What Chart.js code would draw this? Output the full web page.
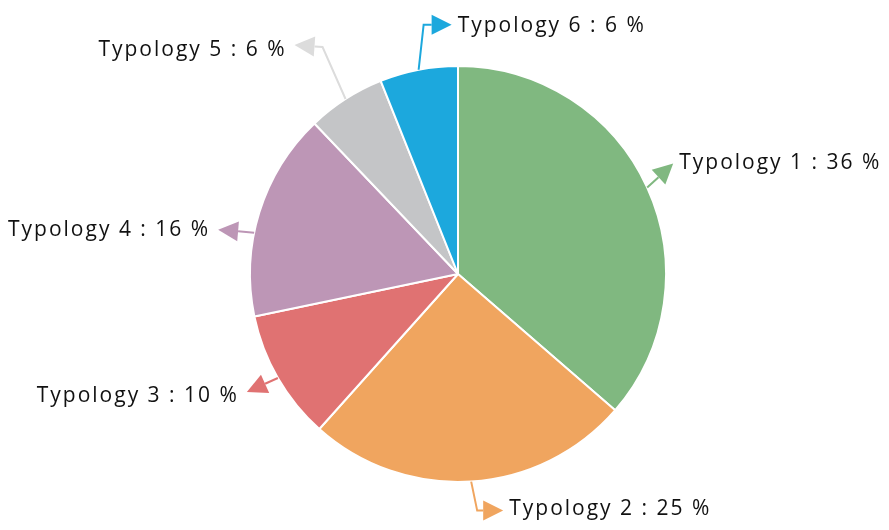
<!DOCTYPE html>
<html lang="en">
<head>
    <meta charset="UTF-8">
    <title>Typologies</title>
    <style>
        * { padding: 0; margin: 0; }
        body { background: #fff; }
        #wrap { width: 889px; height: 530px; }
    </style>
</head>
<body>
    <div id="wrap"><canvas id="pieChart" width="889" height="530"></canvas></div>

    <script src="https://cdn.jsdelivr.net/npm/chart.js"></script>
    <script>
        // data
        const labels = ['Typology 1', 'Typology 2', 'Typology 3', 'Typology 4', 'Typology 5', 'Typology 6'];
        const values = [36, 25, 10, 16, 6, 6];
        const colors = ['#80b880', '#f0a55f', '#e07272', '#bd96b6', '#c4c5c7', '#1ca8dd'];
        const arrowColors = ['#80b880', '#f0a55f', '#e07272', '#bd96b6', '#dcdcdc', '#1ca8dd'];

        // leader lines: where on the slice they start (fraction of the slice angle),
        // bend points relative to that start, last point is the arrow tip
        const leaders = [
            { at: 0.5, pts: [[26, -24]], side: 'right', dy: -1 },
            { at: 0.5, pts: [[6, 29], [32, 29]], side: 'right', dy: -2 },
            { at: 0.5, pts: [[-31, 14]], side: 'left', dy: 4 },
            { at: 0.4, pts: [[-36, -3]], side: 'left', dy: 0 },
            { at: 0.5, pts: [[-23, -52], [-51, -54]], side: 'left', dy: 5 },
            { at: 0.5, pts: [[5, -45], [33, -45]], side: 'right', dy: 1 }
        ];

        const leaderPlugin = {
            id: 'leaders',
            afterDatasetsDraw(chart) {
                const ctx = chart.ctx;
                const meta = chart.getDatasetMeta(0);
                meta.data.forEach((arc, i) => {
                    const p = arc.getProps(['x', 'y', 'startAngle', 'endAngle', 'outerRadius'], true);
                    const L = leaders[i];
                    const a = p.startAngle + (p.endAngle - p.startAngle) * L.at;
                    const x0 = p.x + Math.cos(a) * p.outerRadius;
                    const y0 = p.y + Math.sin(a) * p.outerRadius;
                    const pts = [[x0, y0]].concat(L.pts.map(q => [x0 + q[0], y0 + q[1]]));
                    const tip = pts[pts.length - 1];
                    const prev = pts[pts.length - 2];
                    const ang = Math.atan2(tip[1] - prev[1], tip[0] - prev[0]);
                    const len = 20, half = 10;
                    const bx = tip[0] - Math.cos(ang) * len;
                    const by = tip[1] - Math.sin(ang) * len;

                    ctx.save();
                    ctx.strokeStyle = arrowColors[i];
                    ctx.fillStyle = arrowColors[i];
                    ctx.lineWidth = 2;
                    ctx.beginPath();
                    ctx.moveTo(pts[0][0], pts[0][1]);
                    for (let k = 1; k < pts.length - 1; k++) ctx.lineTo(pts[k][0], pts[k][1]);
                    ctx.lineTo(bx, by);
                    ctx.stroke();

                    ctx.beginPath();
                    ctx.moveTo(tip[0], tip[1]);
                    ctx.lineTo(bx - Math.sin(ang) * half, by + Math.cos(ang) * half);
                    ctx.lineTo(bx + Math.sin(ang) * half, by - Math.cos(ang) * half);
                    ctx.closePath();
                    ctx.fill();

                    // label text
                    ctx.fillStyle = '#111';
                    ctx.font = '21px "Open Sans", sans-serif';
                    ctx.letterSpacing = '2px';
                    ctx.textBaseline = 'middle';
                    const txt = labels[i] + ' : ' + values[i] + ' %';
                    if (L.side === 'right') {
                        ctx.textAlign = 'left';
                        ctx.fillText(txt, tip[0] + 6, tip[1] + L.dy);
                    } else {
                        ctx.textAlign = 'right';
                        ctx.fillText(txt, tip[0] - 8, tip[1] + L.dy);
                    }
                    ctx.restore();
                });
            }
        };

        new Chart(document.getElementById('pieChart'), {
            type: 'pie',
            data: {
                labels: labels,
                datasets: [{
                    data: values,
                    backgroundColor: colors,
                    borderColor: '#ffffff',
                    borderWidth: 2
                }]
            },
            options: {
                responsive: false,
                animation: false,
                layout: { padding: { top: 65, bottom: 47, left: 249, right: 222 } },
                plugins: {
                    legend: { display: false },
                    tooltip: { enabled: false }
                }
            },
            plugins: [leaderPlugin]
        });
    </script>
</body>
</html>
